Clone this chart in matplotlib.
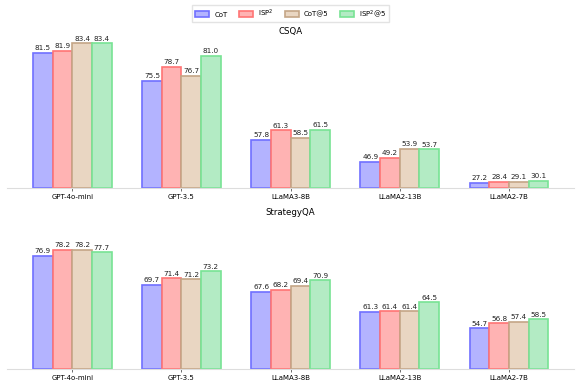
import numpy as np
import matplotlib
matplotlib.use("Agg")
import matplotlib.pyplot as plt

models = ["GPT-4o-mini", "GPT-3.5", "LLaMA3-8B", "LLaMA2-13B", "LLaMA2-7B"]
methods = ["CoT", "ISP$^2$", "CoT@5", "ISP$^2$@5"]

csqa_cot = [81.5, 75.5, 57.8, 46.9, 27.2]
csqa_isp = [81.9, 78.7, 61.3, 49.2, 28.4]
csqa_cot5 = [83.4, 76.7, 58.5, 53.9, 29.1]
csqa_isp5 = [83.4, 81.0, 61.5, 53.7, 30.1]

sqa_cot = [76.9, 69.7, 67.6, 61.3, 54.7]
sqa_isp = [78.2, 71.4, 68.2, 61.4, 56.8]
sqa_cot5 = [78.2, 71.2, 69.4, 61.4, 57.4]
sqa_isp5 = [77.7, 73.2, 70.9, 64.5, 58.5]

fills = ["#b3b3ff", "#ffb3b3", "#e9d6c2", "#b3ebc4"]
edges = ["#7070ff", "#ff7474", "#c4a586", "#78e394"]

fig = plt.figure(figsize=(5.81, 3.88), dpi=100)
ax1 = fig.add_axes([0.0117, 0.516, 0.977, 0.391])
ax2 = fig.add_axes([0.0117, 0.049, 0.977, 0.391])

x = np.arange(len(models))
w = 0.18

def draw(ax, title, series):
    for i, vals in enumerate(series):
        pos = x + (i - 1.5) * w
        bars = ax.bar(pos, vals, w, color=fills[i], edgecolor=edges[i],
                      linewidth=1.2, label=methods[i])
        for b, v in zip(bars, vals):
            ax.annotate(f"{v:.1f}", (b.get_x() + b.get_width() / 2, v),
                        xytext=(0, 1.2), textcoords="offset points",
                        ha="center", va="bottom", fontsize=5.2, color="#222222")
    ax.set_yscale("function", functions=(lambda v: np.sign(v) * np.abs(v) ** 3,
                                         lambda v: np.sign(v) * np.abs(v) ** (1 / 3)))
    ax.set_ylim(0, 84.8)
    ax.set_xlim(-0.6, 4.6)
    ax.set_xticks(x)
    ax.set_xticklabels(models, fontsize=5)
    ax.set_yticks([])
    ax.minorticks_off()
    ax.tick_params(axis="x", length=2.5, width=0.6, color="#555555", pad=2)
    for s in ["top", "right", "left"]:
        ax.spines[s].set_visible(False)
    ax.spines["bottom"].set_color("#dddddd")
    ax.spines["bottom"].set_linewidth(0.8)
    ax.set_title(title, fontsize=6.2, pad=1.5)

draw(ax1, "CSQA", [csqa_cot, csqa_isp, csqa_cot5, csqa_isp5])
draw(ax2, "StrategyQA", [sqa_cot, sqa_isp, sqa_cot5, sqa_isp5])

h, l = ax1.get_legend_handles_labels()
fig.legend(h, l, loc="upper center", bbox_to_anchor=(0.5, 0.995), ncol=4,
           fontsize=5, frameon=True, handlelength=2.0, handleheight=0.9,
           columnspacing=1.6, handletextpad=0.8, borderpad=0.35,
           fancybox=False, edgecolor="#dddddd")

fig.savefig("out.png", dpi=100)
